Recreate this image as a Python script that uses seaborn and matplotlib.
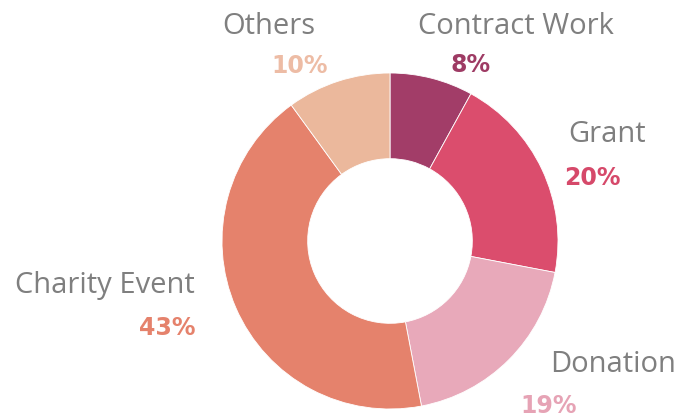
import numpy as np
import seaborn as sns
import matplotlib
matplotlib.use("Agg")
import matplotlib.pyplot as plt

# data
categories = ['Contract Work', 'Grant', 'Donation', 'Charity Event', 'Others']
shares = [8, 20, 19, 43, 10]
pct_labels = ['8%', '20%', '19%', '43%', '10%']

# colours (slice, percent text)
slice_colors = ['#A23D68', '#DB4D6D', '#E8A9BA', '#E5826C', '#EBB89C']
pct_colors = ['#9E3B64', '#D6496A', '#E6A3B5', '#E5826C', '#EDBCA5']

sns.set_theme(style="white")
plt.rcParams['font.family'] = ['Open Sans', 'DejaVu Sans']

W, H = 680, 420
fig = plt.figure(figsize=(W / 100, H / 100), dpi=100)
ax = fig.add_axes([0, 0, 1, 1])

# donut in pixel space (y measured from bottom)
cx, cy, r = 390, H - 241, 168
ax.pie(shares, colors=slice_colors, startangle=90, counterclock=False,
       center=(cx, cy), radius=r,
       wedgeprops=dict(width=r * 0.51, edgecolor='white', linewidth=0.6))

ax.set_xlim(0, W)
ax.set_ylim(0, H)
ax.set_aspect('auto')
ax.axis('off')

# label placement (pixel centres from top-left)
name_pos = {'Contract Work': (516, 26), 'Grant': (607, 134), 'Donation': (613, 364),
            'Charity Event': (105, 285), 'Others': (269, 27)}
pct_pos = {'Contract Work': (471, 65), 'Grant': (592, 178), 'Donation': (549, 406),
           'Charity Event': (167, 328), 'Others': (300, 66)}

for cat, pl, pc in zip(categories, pct_labels, pct_colors):
    x, y = name_pos[cat]
    ax.text(x, H - y, cat, ha='center', va='center', fontsize=21, color='#7F7F7F')
    x, y = pct_pos[cat]
    ax.text(x, H - y, pl, ha='center', va='center', fontsize=17, color=pc,
            fontweight='bold', family=['DejaVu Sans'])

fig.savefig('out.png', dpi=100, facecolor='white')
